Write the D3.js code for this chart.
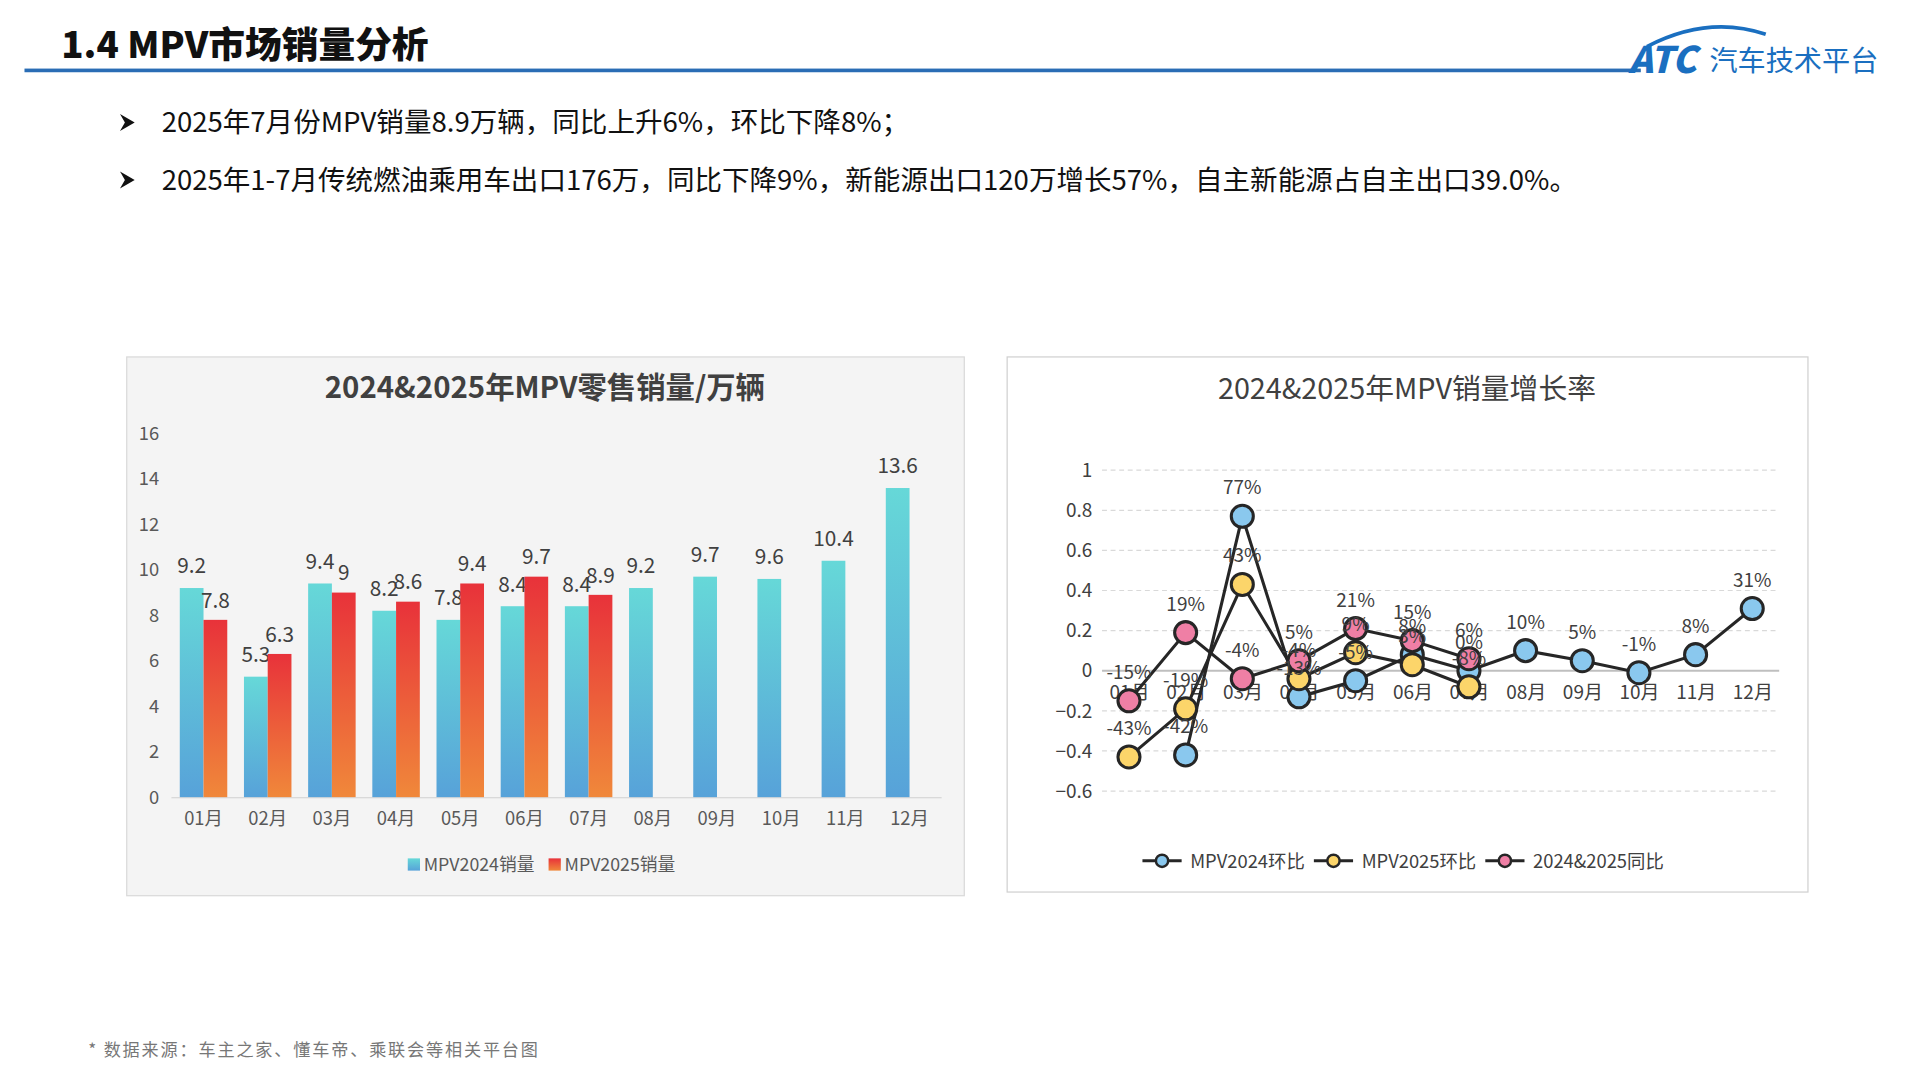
<!DOCTYPE html>
<html><head><meta charset="utf-8">
<script src="https://cdn.jsdelivr.net/npm/d3@7"></script>
<style>body{margin:0;background:#fff}text{font-family:"Noto Sans CJK SC","Noto Sans",sans-serif}</style>
</head><body>
<svg id="s" width="1920" height="1080" viewBox="0 0 1568 882"></svg>
<script>
const months=["01月","02月","03月","04月","05月","06月","07月","08月","09月","10月","11月","12月"];
const sales2024=[9.2,5.3,9.4,8.2,7.8,8.4,8.4,9.2,9.7,9.6,10.4,13.6];
const sales2025=[7.8,6.3,9,8.6,9.4,9.7,8.9];
const mom2024=[null,-0.42,0.77,-0.13,-0.05,0.08,0.00,0.10,0.05,-0.01,0.08,0.31];
const mom2025=[-0.43,-0.19,0.43,-0.04,0.09,0.03,-0.08];
const yoy=[-0.15,0.19,-0.04,0.05,0.21,0.15,0.06];
const barTicks=[0,2,4,6,8,10,12,14,16];
const lineTicks=[-0.6,-0.4,-0.2,0,0.2,0.4,0.6,0.8,1];

const svg=d3.select("#s");
const defs=svg.append("defs");
function grad(id,top,bot){const g=defs.append("linearGradient").attr("id",id).attr("x1",0).attr("y1",0).attr("x2",0).attr("y2",1);
 g.append("stop").attr("offset","0%").attr("stop-color",top);g.append("stop").attr("offset","100%").attr("stop-color",bot);}
grad("g24","#66d8d8","#57a2d9");grad("g25","#e8323a","#f0883a");

// header
svg.append("text").attr("x",50).attr("y",47).attr("font-size",30).attr("font-weight",900).attr("fill","#111").text("1.4 MPV市场销量分析");
svg.append("rect").attr("x",20).attr("y",56).attr("width",1320).attr("height",3).attr("fill","#2a6db5");
svg.append("path").attr("d","M1345,38 Q1395,12 1442,28").attr("fill","none").attr("stroke","#1a6fc0").attr("stroke-width",3);
svg.append("text").attr("x",1330).attr("y",60).attr("font-size",30).attr("font-weight",900).attr("font-style","italic").attr("fill","#1a6fc0").text("ATC");
svg.append("text").attr("x",1396).attr("y",58).attr("font-size",23).attr("fill","#1a6fc0").text("汽车技术平台");

const bullets=["2025年7月份MPV销量8.9万辆，同比上升6%，环比下降8%；","2025年1-7月传统燃油乘用车出口176万，同比下降9%，新能源出口120万增长57%，自主新能源占自主出口39.0%。"];
bullets.forEach((b,i)=>{const y=108+i*47;
 svg.append("path").attr("d",`M98,${y-15} L110,${y-8} L98,${y-1} L102,${y-8}Z`).attr("fill","#111");
 svg.append("text").attr("x",132).attr("y",y).attr("font-size",22.5).attr("fill","#111").text(b);});

svg.append("text").attr("x",72).attr("y",862).attr("font-size",14).attr("letter-spacing",1.5).attr("fill","#777").text("* 数据来源：车主之家、懂车帝、乘联会等相关平台图");

// left panel
svg.append("rect").attr("x",103.5).attr("y",291.5).attr("width",684).attr("height",440).attr("fill","#f4f4f4").attr("stroke","#d9d9d9");
svg.append("text").attr("x",445).attr("y",325).attr("text-anchor","middle").attr("font-size",24).attr("font-weight",700).attr("fill","#404040").text("2024&2025年MPV零售销量/万辆");
const x=d3.scaleBand().domain(months).range([140,769]).paddingInner(0.26).paddingOuter(0.13);
const y=d3.scaleLinear().domain([0,16]).range([651,354]);
svg.append("g").attr("transform","translate(140,0)").call(d3.axisLeft(y).tickValues(barTicks).tickSize(0).tickPadding(10))
 .call(g=>{g.select(".domain").remove();g.selectAll("text").attr("font-size",15).attr("fill","#595959").attr("font-family","Noto Sans CJK SC");});
svg.append("line").attr("x1",140).attr("x2",769).attr("y1",651.5).attr("y2",651.5).attr("stroke","#d0d0d0");
svg.append("g").attr("transform","translate(0,651)").call(d3.axisBottom(x).tickSize(0).tickPadding(12))
 .call(g=>{g.select(".domain").remove();g.selectAll("text").attr("font-size",15).attr("fill","#595959").attr("font-family","Noto Sans CJK SC");});
const bw=x.bandwidth()/2;
const bars=svg.append("g");
sales2024.forEach((v,i)=>{const x0=x(months[i]);
 bars.append("rect").attr("x",x0).attr("y",y(v)).attr("width",bw).attr("height",y(0)-y(v)).attr("fill","url(#g24)");
 bars.append("text").attr("x",x0+bw/2).attr("y",y(v)-12).attr("text-anchor","middle").attr("font-size",17).attr("fill","#404040").text(v);});
sales2025.forEach((v,i)=>{const x0=x(months[i])+bw;
 bars.append("rect").attr("x",x0).attr("y",y(v)).attr("width",bw).attr("height",y(0)-y(v)).attr("fill","url(#g25)");
 bars.append("text").attr("x",x0+bw/2).attr("y",y(v)-10).attr("text-anchor","middle").attr("font-size",17).attr("fill","#404040").text(v);});
[["MPV2024销量","url(#g24)",333],["MPV2025销量","url(#g25)",448]].forEach(([t,c,lx])=>{
 svg.append("rect").attr("x",lx).attr("y",701).attr("width",10).attr("height",10).attr("fill",c);
 svg.append("text").attr("x",lx+13).attr("y",711).attr("font-size",14.5).attr("fill","#595959").text(t);});

// right panel
svg.append("rect").attr("x",822.5).attr("y",291.5).attr("width",654).attr("height",437).attr("fill","#fff").attr("stroke","#d0d0d0");
svg.append("text").attr("x",1149).attr("y",326).attr("text-anchor","middle").attr("font-size",23.5).attr("fill","#404040").text("2024&2025年MPV销量增长率");
const lx=d3.scalePoint().domain(months).range([922,1431]);
const ly=d3.scaleLinear().domain([-0.6,1]).range([646,384]);
lineTicks.forEach(t=>{svg.append("line").attr("x1",900).attr("x2",1453).attr("y1",ly(t)).attr("y2",ly(t)).attr("stroke",t===0?"#bfbfbf":"#d9d9d9").attr("stroke-width",t===0?1.5:1).attr("stroke-dasharray",t===0?null:"4,3");});
svg.append("g").attr("transform","translate(892,0)").call(d3.axisLeft(ly).tickValues(lineTicks).tickFormat(d=>d3.format("~g")(+d.toFixed(1))).tickSize(0).tickPadding(0))
 .call(g=>{g.select(".domain").remove();g.selectAll("text").attr("font-size",15.5).attr("fill","#404040").attr("font-family","Noto Sans CJK SC");});
svg.append("g").attr("transform",`translate(0,${ly(0)})`).call(d3.axisBottom(lx).tickSize(0).tickPadding(12))
 .call(g=>{g.select(".domain").remove();g.selectAll("text").attr("font-size",15.5).attr("fill","#404040").attr("font-family","Noto Sans CJK SC");});
const series=[[mom2024,"#8ac8ee","MPV2024环比"],[mom2025,"#fcd56a","MPV2025环比"],[yoy,"#ef7fa5","2024&2025同比"]];
const line=d3.line().defined(d=>d[1]!=null).x(d=>lx(d[0])).y(d=>ly(d[1]));
series.forEach(([data,c])=>{const pts=data.map((v,i)=>[months[i],v]);
 svg.append("path").attr("d",line(pts)).attr("fill","none").attr("stroke","#262626").attr("stroke-width",2.5);
 pts.filter(p=>p[1]!=null).forEach(p=>{
  svg.append("circle").attr("cx",lx(p[0])).attr("cy",ly(p[1])).attr("r",9).attr("fill",c).attr("stroke","#262626").attr("stroke-width",2.5);});
});
series.forEach(([data])=>{data.forEach((v,i)=>{if(v==null)return;
 svg.append("text").attr("x",lx(months[i])).attr("y",ly(v)-18).attr("text-anchor","middle").attr("font-size",15.5).attr("fill","#404040").text(Math.round(v*100)+"%");});});
[[936,"#8ac8ee","MPV2024环比"],[1076,"#fcd56a","MPV2025环比"],[1216,"#ef7fa5","2024&2025同比"]].forEach(([px,c,t])=>{
 svg.append("line").attr("x1",px-3).attr("x2",px+29).attr("y1",703).attr("y2",703).attr("stroke","#262626").attr("stroke-width",2.5);
 svg.append("circle").attr("cx",px+13).attr("cy",703).attr("r",5).attr("fill",c).attr("stroke","#262626").attr("stroke-width",2);
 svg.append("text").attr("x",px+36).attr("y",709).attr("font-size",15).attr("fill","#404040").text(t);});
</script></body></html>
